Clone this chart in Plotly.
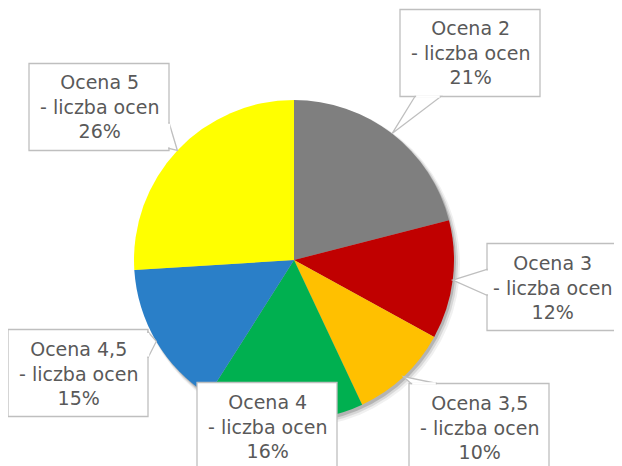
import math
import plotly.graph_objects as go

labels = ["Ocena 2", "Ocena 3", "Ocena 3,5", "Ocena 4", "Ocena 4,5", "Ocena 5"]
shares = [21, 12, 10, 16, 15, 26]
colors = ["#7F7F7F", "#C00000", "#FFC000", "#00B050", "#2A7FC8", "#FFFF00"]

# page body adds an 8px margin, so everything is laid out 8px up/left
OFF = 8
# centre of each callout box (pixels, from top-left of the window)
box_centres = [(470, 53), (557, 287), (479, 427), (267, 426), (78, 373), (99, 107)]
BW, BH = 140, 87  # callout box size
WEDGE = 26        # width of callout wedge base

W, H = 622, 466
cx, cy, r = 294 - OFF, 260 - OFF, 160
EDGE = "#BFBFBF"


def px(x):
    return x / W


def py(y):
    return 1 - y / H


fig = go.Figure(go.Pie(
    labels=labels,
    values=shares,
    marker=dict(colors=colors, line=dict(width=0)),
    sort=False,
    direction="clockwise",
    rotation=0,
    textinfo="none",
    hoverinfo="label+percent",
    domain=dict(x=[px(cx - r), px(cx + r)], y=[py(cy + r), py(cy - r)]),
))

# soft shadow under the pie
for d, op in [(6, 0.06), (4, 0.10), (2, 0.16)]:
    fig.add_shape(
        type="circle", xref="paper", yref="paper", layer="below",
        x0=px(cx - r + 2), x1=px(cx + r + d),
        y0=py(cy + r + d + 1), y1=py(cy - r + 2),
        fillcolor=f"rgba(0,0,0,{op})", line=dict(width=0),
    )

total = sum(shares)
cum = 0
for lab, v, (bx, by) in zip(labels, shares, box_centres):
    mid = (cum + v / 2) / total * 2 * math.pi
    cum += v
    tx = cx + r * math.sin(mid)
    ty = cy - r * math.cos(mid)
    bx, by = bx - OFF, by - OFF
    hw, hh = BW / 2, BH / 2

    # box
    fig.add_shape(type="rect", xref="paper", yref="paper", layer="above",
                  x0=px(bx - hw), x1=px(bx + hw), y0=py(by + hh), y1=py(by - hh),
                  fillcolor="white", line=dict(color=EDGE, width=1.3))

    # wedge pointing at the slice
    dx, dy = tx - bx, ty - by
    if abs(dx) > hw or abs(dy) > hh:
        sx = hw / abs(dx) if dx else 1e9
        sy = hh / abs(dy) if dy else 1e9
        if sx < sy:
            ex = bx + math.copysign(hw, dx)
            ey = min(max(by + dy * sx, by - hh + WEDGE / 2 + 2), by + hh - WEDGE / 2 - 2)
            a, b = (ex, ey - WEDGE / 2), (ex, ey + WEDGE / 2)
            a2, b2 = (ex, ey - WEDGE / 2 + 1.2), (ex, ey + WEDGE / 2 - 1.2)
        else:
            ey = by + math.copysign(hh, dy)
            ex = min(max(bx + dx * sy, bx - hw + WEDGE / 2 + 2), bx + hw - WEDGE / 2 - 2)
            a, b = (ex - WEDGE / 2, ey), (ex + WEDGE / 2, ey)
            a2, b2 = (ex - WEDGE / 2 + 1.2, ey), (ex + WEDGE / 2 - 1.2, ey)
        fig.add_shape(type="path", xref="paper", yref="paper", layer="above",
                      path=f"M {px(a[0])},{py(a[1])} L {px(tx)},{py(ty)} "
                           f"L {px(b[0])},{py(b[1])} Z",
                      fillcolor="white", line=dict(color=EDGE, width=1.3))
        fig.add_shape(type="line", xref="paper", yref="paper", layer="above",
                      x0=px(a2[0]), y0=py(a2[1]), x1=px(b2[0]), y1=py(b2[1]),
                      line=dict(color="white", width=2.5))

    # keep text of boxes running off the right edge readable
    shift = min(0, (W - 2 * OFF - 2) - (bx + 60))
    fig.add_annotation(
        x=px(bx), y=py(by), xref="paper", yref="paper",
        xanchor="center", yanchor="middle", xshift=shift,
        text=f"{lab}<br>- liczba ocen<br>{round(v / total * 100)}%",
        showarrow=False, align="center",
        font=dict(family="DejaVu Sans", size=19, color="#595959"),
    )

fig.update_layout(
    width=W, height=H,
    margin=dict(l=0, r=0, t=0, b=0),
    showlegend=False,
    paper_bgcolor="white",
)

fig.write_html("out.html")
